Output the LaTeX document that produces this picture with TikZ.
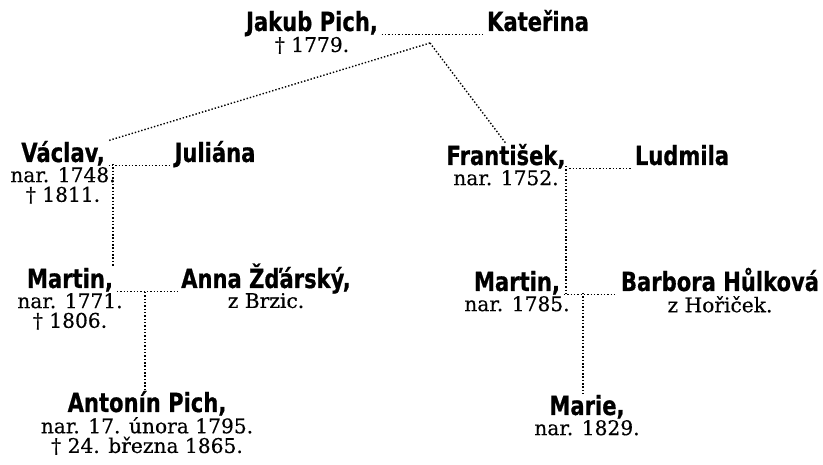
\documentclass[tikz,border=0pt]{standalone}
\usepackage{fontspec}
\usepackage{tikz}
\usetikzlibrary{positioning}
\newfontfamily\namefont{DejaVu Sans}[FakeStretch=0.8,FakeBold=0.6]
\newfontfamily\datfont{DejaVu Serif}[FakeBold=0.4]

\begin{document}
\begin{tikzpicture}[x=0.02cm,y=-0.02cm,
	who/.style={anchor=base,inner sep=2pt,text height=10pt,text depth=3pt,font=\namefont\bfseries\fontsize{15}{16}\selectfont},
	dat/.style={align=center,inner sep=1pt,font=\datfont\fontsize{11.5}{11.2}\selectfont},
	tie/.style={line width=0.8pt,dash pattern=on 0.8pt off 1.1pt}
	]
	\useasboundingbox (0,0) rectangle (823,465);
	% first generation
	\node[who] (jakub) at (312,31) {Jakub Pich,};
	\node[who] (katerina) at (538,31) {Kateřina};
	\node[dat,below=-3pt of jakub] (jakubd) {† 1779.};
	\draw[tie] ([yshift=-2pt]jakub.base east) -- ([yshift=-2pt]katerina.base west);
	\coordinate (j0) at (430,43);
	% sons
	\node[who] (vaclav) at (63,162) {Václav,};
	\node[who] (juliana) at (215,162) {Juliána};
	\node[dat,below=-3.5pt of vaclav] (vaclavd) {nar. 1748.\\† 1811.};
	\node[who] (frantisek) at (506,165) {František,};
	\node[who] (ludmila) at (682,165) {Ludmila};
	\node[dat,below=-3.5pt of frantisek] (frantisekd) {nar. 1752.};
	\draw[tie] (j0) -- (vaclav.north east);
	\draw[tie] (j0) -- (frantisek.north);
	\draw[tie] ([yshift=-2pt]vaclav.base east) -- ([yshift=-2pt]juliana.base west);
	\draw[tie] ([yshift=-2pt]frantisek.base east) -- ([yshift=-2pt]ludmila.base west);
	\coordinate (j1) at (113,164);
	\coordinate (j3) at (566,166);
	% grandsons
	\node[who] (martinl) at (70,288) {Martin,};
	\node[who] (anna) at (266,288) {Anna Žďárský,};
	\node[dat,below=-3.5pt of martinl] (martinld) {nar. 1771.\\† 1806.};
	\node[dat,below=-3.5pt of anna] (annad) {z Brzic.};
	\node[who] (martinr) at (517,291) {Martin,};
	\node[who] (barbora) at (720,291) {Barbora Hůlková};
	\node[dat,below=-3.5pt of martinr] (martinrd) {nar. 1785.};
	\node[dat,below=-3.5pt of barbora] (barborad) {z Hořiček.};
	\draw[tie] (j1) -- (j1 |- martinl.north);
	\draw[tie] ([yshift=-2pt]martinl.base east) -- ([yshift=-2pt]anna.base west);
	\draw[tie] ([yshift=-2pt]martinr.base east) coordinate (m4) -- ([yshift=-2pt]barbora.base west);
	\draw[tie] (j3) -- (j3 |- m4);
	\coordinate (j2) at (145,292);
	\coordinate (j4) at (583,293);
	% last generation
	\node[who] (antonin) at (147,412) {Antonín Pich,};
	\node[dat,below=-3.5pt of antonin] (antonind) {nar. 17. února 1795.\\† 24. března 1865.};
	\node[who] (marie) at (587,415) {Marie,};
	\node[dat,below=-3.5pt of marie] (maried) {nar. 1829.};
	\draw[tie] (j2) -- (j2 |- antonin.north);
	\draw[tie] (j4) -- (j4 |- marie.north);
\end{tikzpicture}
\end{document}
